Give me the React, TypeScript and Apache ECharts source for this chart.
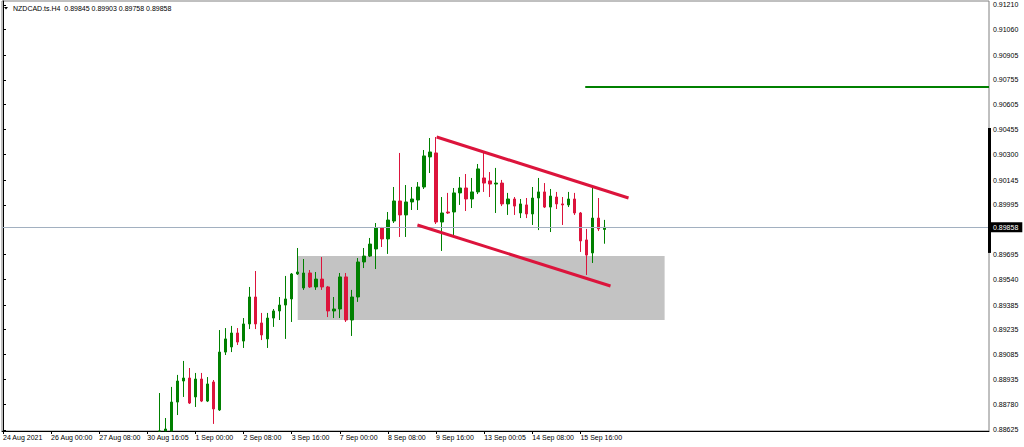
import React, { useEffect, useRef } from 'react';
import * as echarts from 'echarts';

const symbolName = 'NZDCAD.ts.H4';
const xTickLabels = [
  '24 Aug 2021', '26 Aug 00:00', '27 Aug 08:00', '30 Aug 16:05', '1 Sep 00:00',
  '2 Sep 08:00', '3 Sep 16:00', '7 Sep 00:00', '8 Sep 08:00', '9 Sep 16:00',
  '13 Sep 00:05', '14 Sep 08:00', '15 Sep 16:00',
];
const barsPerLabel = 8;
const firstBar = 26;
// H4 candles: [open, close, low, high]
const candles: number[][] = [
  [0.88534, 0.88589, 0.88503, 0.88850],
  [0.88613, 0.88631, 0.88564, 0.88698],
  [0.88589, 0.88795, 0.88564, 0.88887],
  [0.88795, 0.88923, 0.88716, 0.88960],
  [0.88923, 0.88941, 0.88826, 0.89045],
  [0.88941, 0.88789, 0.88783, 0.89002],
  [0.88826, 0.88935, 0.88765, 0.88972],
  [0.88935, 0.88801, 0.88795, 0.88972],
  [0.88801, 0.88905, 0.88795, 0.88947],
  [0.88917, 0.88753, 0.88662, 0.88929],
  [0.88747, 0.89099, 0.88741, 0.89233],
  [0.89099, 0.89179, 0.89081, 0.89245],
  [0.89130, 0.89215, 0.89099, 0.89258],
  [0.89215, 0.89160, 0.89142, 0.89245],
  [0.89166, 0.89270, 0.89124, 0.89306],
  [0.89270, 0.89434, 0.89239, 0.89495],
  [0.89434, 0.89270, 0.89239, 0.89592],
  [0.89276, 0.89203, 0.89172, 0.89337],
  [0.89179, 0.89306, 0.89124, 0.89337],
  [0.89306, 0.89349, 0.89252, 0.89361],
  [0.89349, 0.89385, 0.89294, 0.89434],
  [0.89385, 0.89422, 0.89179, 0.89562],
  [0.89422, 0.89574, 0.89282, 0.89580],
  [0.89574, 0.89586, 0.89568, 0.89732],
  [0.89489, 0.89580, 0.89477, 0.89665],
  [0.89580, 0.89495, 0.89489, 0.89598],
  [0.89495, 0.89543, 0.89477, 0.89586],
  [0.89543, 0.89495, 0.89477, 0.89677],
  [0.89495, 0.89349, 0.89312, 0.89501],
  [0.89349, 0.89361, 0.89306, 0.89434],
  [0.89361, 0.89556, 0.89306, 0.89580],
  [0.89556, 0.89294, 0.89282, 0.89580],
  [0.89294, 0.89434, 0.89197, 0.89477],
  [0.89434, 0.89647, 0.89404, 0.89671],
  [0.89647, 0.89683, 0.89610, 0.89732],
  [0.89683, 0.89756, 0.89677, 0.89793],
  [0.89726, 0.89854, 0.89604, 0.89884],
  [0.89854, 0.89787, 0.89738, 0.89860],
  [0.89787, 0.89902, 0.89696, 0.89951],
  [0.89896, 0.90018, 0.89884, 0.90103],
  [0.90018, 0.89933, 0.89799, 0.90310],
  [0.89933, 0.90012, 0.89799, 0.90115],
  [0.90012, 0.90030, 0.89963, 0.90103],
  [0.90024, 0.90103, 0.89963, 0.90133],
  [0.90103, 0.90292, 0.90091, 0.90328],
  [0.90286, 0.90316, 0.90188, 0.90401],
  [0.90310, 0.89890, 0.89878, 0.90407],
  [0.89890, 0.89945, 0.89714, 0.90042],
  [0.89951, 0.89945, 0.89939, 0.90067],
  [0.89951, 0.90067, 0.89811, 0.90097],
  [0.90067, 0.90097, 0.89994, 0.90164],
  [0.90097, 0.90030, 0.89957, 0.90182],
  [0.90030, 0.90073, 0.89975, 0.90158],
  [0.90073, 0.90213, 0.90060, 0.90243],
  [0.90158, 0.90127, 0.90073, 0.90310],
  [0.90140, 0.90121, 0.90042, 0.90194],
  [0.90121, 0.90127, 0.89945, 0.90219],
  [0.90127, 0.90000, 0.89987, 0.90146],
  [0.90000, 0.90030, 0.89933, 0.90067],
  [0.90030, 0.89987, 0.89933, 0.90042],
  [0.89945, 0.90000, 0.89914, 0.90030],
  [0.89994, 0.89939, 0.89914, 0.90036],
  [0.89939, 0.90036, 0.89872, 0.90103],
  [0.90036, 0.90073, 0.89841, 0.90158],
  [0.90073, 0.89981, 0.89975, 0.90127],
  [0.89981, 0.90048, 0.89829, 0.90091],
  [0.90042, 0.90000, 0.89969, 0.90073],
  [0.90000, 0.89994, 0.89872, 0.90042],
  [0.89994, 0.90030, 0.89981, 0.90073],
  [0.90030, 0.89945, 0.89933, 0.90067],
  [0.89945, 0.89775, 0.89708, 0.89951],
  [0.89781, 0.89689, 0.89568, 0.89848],
  [0.89702, 0.89914, 0.89641, 0.90097],
  [0.89914, 0.89848, 0.89835, 0.90036],
  [0.89845, 0.89858, 0.89758, 0.89903],
];
const yTickValues = [
  0.91210, 0.91060, 0.90905, 0.90755, 0.90605, 0.90455, 0.90300, 0.90145, 0.89995,
  0.89695, 0.89540, 0.89385, 0.89235, 0.89085, 0.88935, 0.88780, 0.88625,
];
const priceRange = [0.886189, 0.912343];
const slotRange = [-0.166, 163.93];
const zoneBars = [49.0, 110.0];
const zonePrices = [0.89683, 0.89294];
const upperChannel = [[72.1, 0.90407], [104.0, 0.90036]];
const lowerChannel = [[68.9, 0.89872], [101.0, 0.89501]];
const targetLevel = 0.90715;
const targetStartBar = 96.8;
const rangeBar = [0.90462, 0.89702];

const FONT = '"Liberation Sans", Arial, sans-serif';
const GREEN = '#008000';
const RED = '#dc143c';

export default function App() {
  const ref = useRef<HTMLDivElement>(null);
  useEffect(() => {
    document.body.style.margin = '0';
    if (!ref.current) return;
    const chart = echarts.init(ref.current, undefined, { renderer: 'svg' });
    const last = candles[candles.length - 1];
    const fmt = (v: number) => v.toFixed(5);
    const title = `${symbolName}  ${fmt(last[0])} ${fmt(last[3])} ${fmt(last[2])} ${fmt(last[1])}`;
    const xTickValues = xTickLabels.map((_, i) => i * barsPerLabel);
    // candles are cut at the bottom of the price window, as in the terminal
    const clampP = (v: number) => Math.max(v, priceRange[0]);
    const data = candles.map((c, i) => [firstBar + i, ...c.map(clampP)]);
    const lineEnd = slotRange[1];
    const seg = (a: number[], b: number[], color: string, width: number) => [
      { coord: a, lineStyle: { color, width, type: 'solid' } },
      { coord: b, lineStyle: { color, width, type: 'solid' } },
    ];
    chart.setOption({
      animation: false,
      backgroundColor: '#fff',
      textStyle: { fontFamily: FONT },
      title: {
        text: title,
        left: 13,
        top: 5,
        padding: 0,
        textStyle: { fontSize: 7, fontWeight: 'normal', color: '#000', fontFamily: FONT },
      },
      graphic: [
        { type: 'polygon', shape: { points: [[4, 7], [8, 7], [6, 9.5]] }, style: { fill: '#000' } },
      ],
      grid: {
        left: 1, top: 1, right: 35, bottom: 16,
        show: true, borderColor: '#808080', borderWidth: 1, backgroundColor: 'transparent',
      },
      xAxis: {
        type: 'value',
        min: slotRange[0],
        max: slotRange[1],
        axisLine: { show: true, onZero: false, lineStyle: { color: '#000', width: 1 } },
        axisTick: { show: true, length: 3, inside: false, customValues: xTickValues, lineStyle: { color: '#000' } },
        axisLabel: {
          show: true, customValues: xTickValues, align: 'left', margin: 3,
          fontSize: 7, color: '#000', fontFamily: FONT,
          formatter: (v: number) => xTickLabels[Math.round(v / barsPerLabel)] ?? '',
        },
        splitLine: { show: false },
      },
      yAxis: {
        type: 'value',
        position: 'right',
        min: priceRange[0],
        max: priceRange[1],
        axisLine: { show: true, lineStyle: { color: '#000', width: 1 } },
        axisTick: { show: true, length: 3, inside: false, customValues: yTickValues, lineStyle: { color: '#000' } },
        axisLabel: {
          show: true, customValues: yTickValues, margin: 4,
          fontSize: 7, color: '#000', fontFamily: FONT,
          formatter: (v: number) => fmt(v),
        },
        splitLine: { show: false },
      },
      series: [
        {
          type: 'line', data: [], silent: true, clip: false,
          markArea: {
            silent: true,
            itemStyle: { color: '#c3c3c3' },
            data: [[
              { coord: [zoneBars[0], zonePrices[0]] },
              { coord: [zoneBars[1], zonePrices[1]] },
            ]],
          },
        },
        {
          type: 'candlestick',
          data,
          barWidth: 3,
          silent: true,
          itemStyle: { color: GREEN, color0: RED, borderColor: GREEN, borderColor0: RED, borderWidth: 1 },
        },
        {
          type: 'line', data: [], silent: true, clip: false, z: 4,
          markLine: {
            silent: true,
            precision: 5,
            symbol: ['none', 'none'],
            label: { show: false },
            data: [
              {
                yAxis: last[1],
                lineStyle: { color: '#a2b0c0', width: 1, type: 'solid' },
                label: {
                  show: true, position: 'end', distance: 1,
                  formatter: () => fmt(last[1]),
                  backgroundColor: '#000', color: '#fff', fontSize: 7, fontFamily: FONT,
                  padding: [2, 4, 1, 3],
                },
              },
              seg(upperChannel[0], upperChannel[1], RED, 3),
              seg(lowerChannel[0], lowerChannel[1], RED, 3),
              seg([targetStartBar, targetLevel], [lineEnd, targetLevel], GREEN, 2),
              seg([lineEnd, rangeBar[0]], [lineEnd, rangeBar[1]], '#000', 3),
            ],
          },
        },
      ],
    });
    return () => chart.dispose();
  }, []);
  return <div ref={ref} style={{ width: 1024, height: 447 }} />;
}
